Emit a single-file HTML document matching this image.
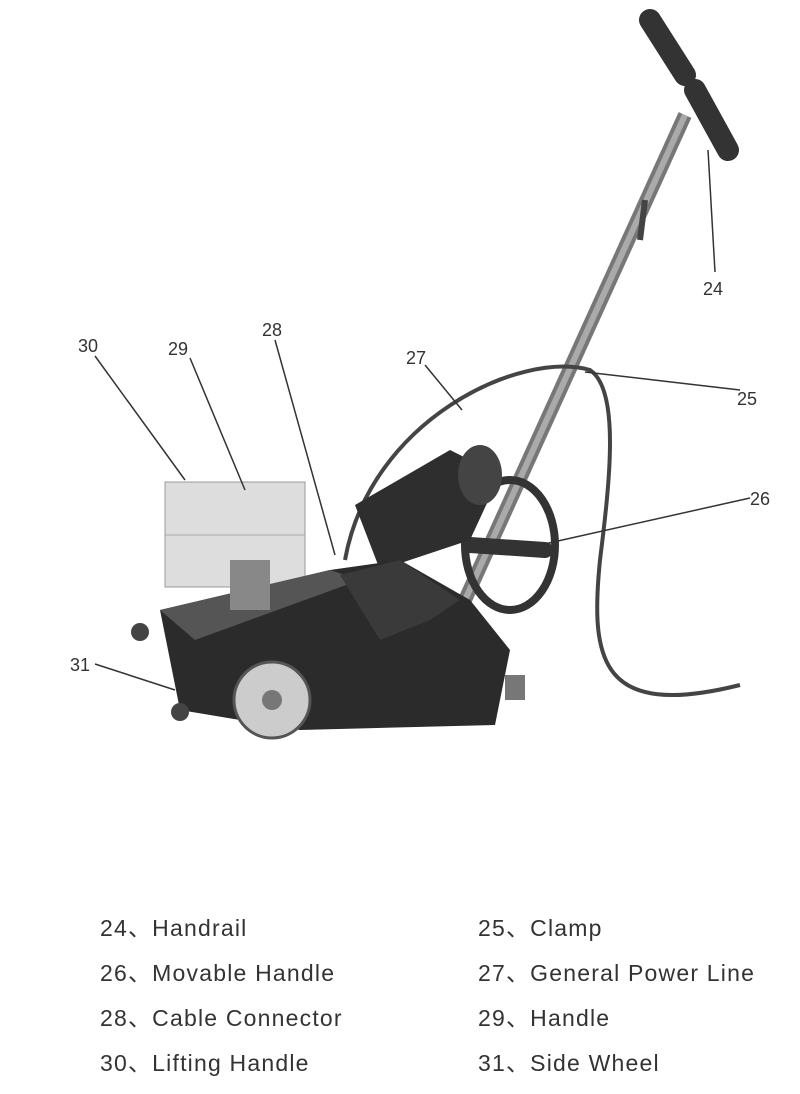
<!DOCTYPE html>
<html><head><meta charset="utf-8"><style>
body{margin:0;background:#fff;width:800px;height:1094px;overflow:hidden;font-family:"Liberation Sans","Noto Sans CJK SC",sans-serif}
.t{position:absolute;font-size:23px;letter-spacing:1.2px;color:#333;white-space:nowrap}
</style></head><body>
<svg width="800" height="900" style="position:absolute;left:0;top:0">
<line x1="465" y1="600" x2="685" y2="115" stroke="#777" stroke-width="14"/>
<line x1="465" y1="600" x2="685" y2="115" stroke="#aaa" stroke-width="6"/>
<line x1="650" y1="20" x2="685" y2="75" stroke="#333" stroke-width="22" stroke-linecap="round"/>
<line x1="695" y1="90" x2="728" y2="150" stroke="#333" stroke-width="22" stroke-linecap="round"/>
<line x1="645" y1="200" x2="640" y2="240" stroke="#444" stroke-width="6"/>
<path d="M345 560 C370 420 520 350 590 370 C620 390 610 480 600 560 C590 660 600 720 740 685" fill="none" stroke="#444" stroke-width="4"/>
<ellipse cx="510" cy="545" rx="45" ry="65" fill="none" stroke="#333" stroke-width="8"/>
<line x1="470" y1="545" x2="545" y2="550" stroke="#333" stroke-width="16" stroke-linecap="round"/>
<path d="M355 505 L450 450 L500 475 L470 540 L380 570 Z" fill="#2e2e2e"/>
<ellipse cx="480" cy="475" rx="22" ry="30" fill="#444"/>
<rect x="165" y="482" width="140" height="105" fill="#ddd" stroke="#999"/>
<line x1="165" y1="535" x2="305" y2="535" stroke="#aaa"/>
<path d="M160 610 L330 570 L400 560 L470 600 L510 650 L495 725 L300 730 L180 710 Z" fill="#2b2b2b"/>
<path d="M160 610 L330 570 L360 580 L195 640 Z" fill="#555"/>
<path d="M340 575 L400 560 L460 600 L430 620 L380 640 Z" fill="#3a3a3a"/>
<circle cx="272" cy="700" r="38" fill="#ccc" stroke="#555" stroke-width="3"/>
<circle cx="272" cy="700" r="10" fill="#777"/>
<circle cx="140" cy="632" r="9" fill="#444"/>
<circle cx="180" cy="712" r="9" fill="#444"/>
<rect x="505" y="675" width="20" height="25" fill="#777"/>
<rect x="230" y="560" width="40" height="50" fill="#888"/>
<g stroke="#333" stroke-width="1.5" fill="none">
<line x1="708" y1="150" x2="715" y2="272"/>
<line x1="585" y1="372" x2="740" y2="390"/>
<line x1="540" y1="545" x2="750" y2="498"/>
<line x1="425" y1="365" x2="462" y2="410"/>
<line x1="275" y1="340" x2="335" y2="555"/>
<line x1="190" y1="358" x2="245" y2="490"/>
<line x1="95" y1="356" x2="185" y2="480"/>
<line x1="95" y1="664" x2="175" y2="690"/>
</g>
<g font-family="Liberation Sans,sans-serif" font-size="18" fill="#333">
<text x="703" y="295">24</text>
<text x="737" y="405">25</text>
<text x="750" y="505">26</text>
<text x="406" y="364">27</text>
<text x="262" y="336">28</text>
<text x="168" y="355">29</text>
<text x="78" y="352">30</text>
<text x="70" y="671">31</text>
</g>
</svg>
<div class="t" style="left:100px;top:909px">24、Handrail</div>
<div class="t" style="left:478px;top:909px">25、Clamp</div>
<div class="t" style="left:100px;top:954px">26、Movable Handle</div>
<div class="t" style="left:478px;top:954px">27、General Power Line</div>
<div class="t" style="left:100px;top:999px">28、Cable Connector</div>
<div class="t" style="left:478px;top:999px">29、Handle</div>
<div class="t" style="left:100px;top:1044px">30、Lifting Handle</div>
<div class="t" style="left:478px;top:1044px">31、Side Wheel</div>
</body></html>
